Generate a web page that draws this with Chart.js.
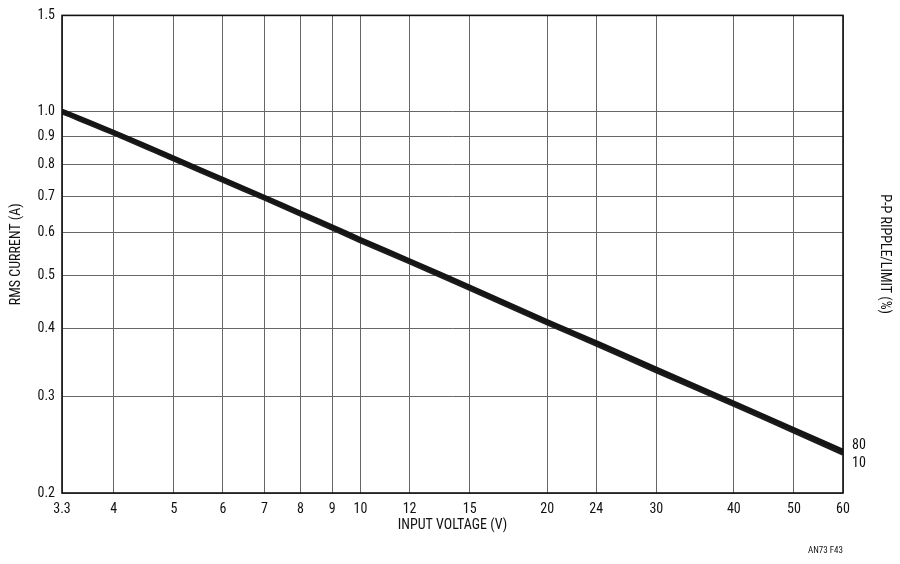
<!DOCTYPE html>
<html><head><meta charset="utf-8">
<script src="https://cdn.jsdelivr.net/npm/chart.js@4"></script>
<style>html,body{margin:0;padding:0;background:#fff}#w{width:900px;height:564px}</style>
</head><body><div id="w"><canvas id="c"></canvas></div>
<script>
const voltages = [3.3, 4, 5, 6, 7, 8, 9, 10, 12, 15, 20, 24, 30, 40, 50, 60];
const ripple80 = [1.004, 0.918, 0.823, 0.753, 0.698, 0.653, 0.616, 0.584, 0.534, 0.478, 0.413, 0.378, 0.338, 0.293, 0.262, 0.239];
const ripple10 = [0.996, 0.911, 0.816, 0.746, 0.692, 0.647, 0.610, 0.578, 0.529, 0.473, 0.409, 0.374, 0.334, 0.290, 0.259, 0.236];
const xTicks = [3.3, 4, 5, 6, 7, 8, 9, 10, 12, 15, 20, 24, 30, 40, 50, 60];
const yTicks = [0.2, 0.3, 0.4, 0.5, 0.6, 0.7, 0.8, 0.9, 1.0, 1.5];
const yLabels = ['0.2','0.3','0.4','0.5','0.6','0.7','0.8','0.9','1.0','1.5'];
const seriesNames = ['80', '10'];

const FONT = "'Liberation Sans Narrow','Roboto Condensed','Arial Narrow','Liberation Sans',sans-serif";

const extras = {
  id: 'extras',
  afterDraw(chart) {
    const ctx = chart.ctx, a = chart.chartArea;
    const xs = chart.scales.x, ys = chart.scales.y;
    ctx.save();
    ctx.strokeStyle = '#111'; ctx.lineWidth = 1.6;
    ctx.strokeRect(a.left, a.top, a.right - a.left, a.bottom - a.top);
    ctx.fillStyle = '#111';
    ctx.font = '14px ' + FONT;
    ctx.textAlign = 'left'; ctx.textBaseline = 'middle';
    const xe = xs.getPixelForValue(voltages[voltages.length - 1]);
    ctx.fillText(seriesNames[0], xe + 9, ys.getPixelForValue(ripple80[ripple80.length - 1]) - 5);
    ctx.fillText(seriesNames[1], xe + 9, ys.getPixelForValue(ripple10[ripple10.length - 1]) + 10);
    // x axis title
    ctx.textAlign = 'center';
    ctx.fillText('INPUT VOLTAGE (V)', (a.left + a.right) / 2, 525);
    // right axis title
    ctx.save();
    ctx.translate(884, (a.top + a.bottom) / 2);
    ctx.rotate(Math.PI / 2);
    ctx.textAlign = 'center'; ctx.textBaseline = 'middle';
    ctx.fillText('P-P RIPPLE/LIMIT (%)', 0, 0);
    ctx.restore();
    ctx.font = '9px ' + FONT;
    ctx.textAlign = 'right';
    ctx.fillText('AN73 F43', 843, 551);
    ctx.restore();
  }
};

new Chart(document.getElementById('c'), {
  type: 'line',
  data: {
    datasets: [
      { label: seriesNames[0], data: voltages.map((v, i) => ({x: v, y: ripple80[i]})), borderColor: '#151515', borderWidth: 4, pointRadius: 0, tension: 0.3 },
      { label: seriesNames[1], data: voltages.map((v, i) => ({x: v, y: ripple10[i]})), borderColor: '#1c1c1c', borderWidth: 4, pointRadius: 0, tension: 0.3 }
    ]
  },
  options: {
    responsive: true, maintainAspectRatio: false, animation: false,
    layout: { padding: { left: 4, right: 57, top: 14, bottom: 0 } },
    plugins: { legend: { display: false }, tooltip: { enabled: false } },
    scales: {
      x: {
        type: 'logarithmic', min: 3.3, max: 60,
        afterBuildTicks(s) { s.ticks = xTicks.map(v => ({value: v})); },
        afterFit(s) { s.height = 71; },
        ticks: { color: '#111', font: { family: FONT, size: 14 }, padding: 8, maxRotation: 0, autoSkip: false, callback: v => String(v) },
        grid: { color: '#666', lineWidth: 1, drawTicks: false },
        border: { display: false }
      },
      y: {
        type: 'logarithmic', min: 0.2, max: 1.5,
        afterBuildTicks(s) { s.ticks = yTicks.map(v => ({value: v})); },
        afterFit(s) { s.width = 58; },
        ticks: { color: '#111', font: { family: FONT, size: 14 }, padding: 7, autoSkip: false, callback: (v) => { const i = yTicks.indexOf(v); return i >= 0 ? yLabels[i] : ''; } },
        grid: { color: '#666', lineWidth: 1, drawTicks: false },
        border: { display: false },
        title: { display: true, text: 'RMS CURRENT (A)', color: '#111', font: { family: FONT, size: 14 }, padding: { top: 4, bottom: 0 } }
      }
    }
  },
  plugins: [extras]
});
</script></body></html>
